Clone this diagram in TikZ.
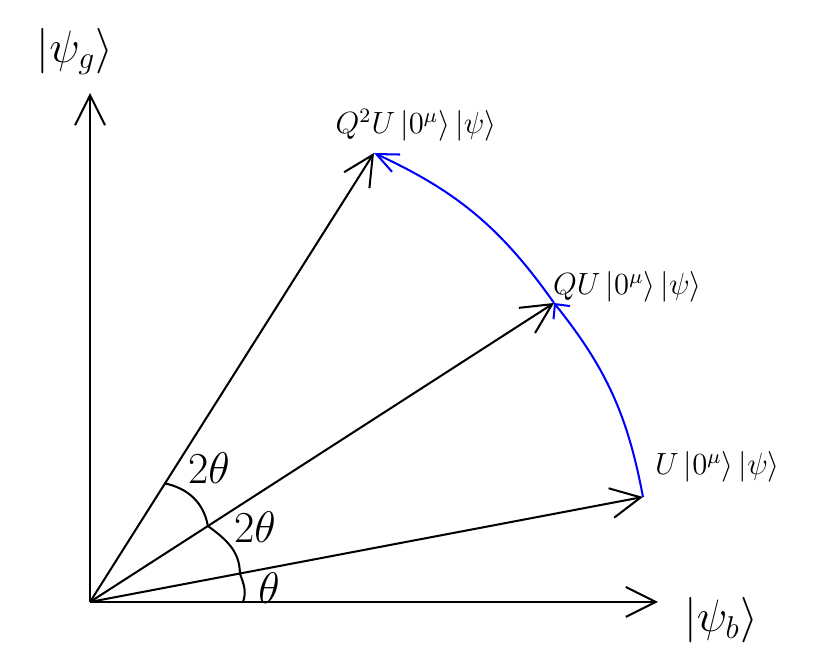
\documentclass[tikz,border=0pt]{standalone}
\usetikzlibrary{arrows.meta,calc}

\begin{document}
\begin{tikzpicture}[
  line width=0.85pt,
  vec/.style={-{Straight Barb[length=4.4mm,width=4.4mm]}},
  turn/.style={blue},
  ketlabel/.style={font=\LARGE,scale=1.1,transform shape},
  anglabel/.style={font=\LARGE,scale=1.07,transform shape},
  statelabel/.style={font=\large,scale=1.07,transform shape}
]
\useasboundingbox (-1.324,-1.015) rectangle (10.706,8.853);

% origin and axis ends
\coordinate (O) at (0,0);
\coordinate (yend) at (0,7.485);
\coordinate (xend) at (8.353,0);

% states
\coordinate (U) at (8.132,1.544);
\coordinate (QU) at (6.824,4.397);
\coordinate (QQU) at (4.176,6.603);

\draw[vec] (O) -- (yend);
\draw[vec] (O) -- (xend);
\draw[vec] (O) -- (U);
\draw[vec] (O) -- (QU);
\draw[vec] (O) -- (QQU);

% rotation by Q
\draw[turn,-{Straight Barb[length=1.6mm,width=3.1mm]}] (U) to[bend right=14] (QU);
\draw[turn,-{Straight Barb[length=3.2mm,width=2.8mm]}] (QU) to[bend right=15] (QQU);

% angle marks
\coordinate (m0) at (2.25,0);
\coordinate (m1) at ($(O)!0.271!(U)$);
\coordinate (m2) at ($(O)!0.254!(QU)$);
\coordinate (m3) at ($(O)!0.264!(QQU)$);
\draw (m0) to[out=70,in=-70] (m1);
\draw (m1) to[out=90,in=-36] (m2);
\draw (m2) to[out=100,in=-12] (m3);

\node[anglabel] (th) at (2.632,0.206) {$\theta$};
\node[anglabel] (th2a) at (2.426,1.103) {$2\theta$};
\node[anglabel] (th2b) at (1.75,1.971) {$2\theta$};

% labels
\node[ketlabel] (good) at (-0.221,8.096) {$\left|\psi_g\right\rangle$};
\node[ketlabel] (bad) at (9.279,-0.265) {$\left|\psi_b\right\rangle$};
\node[statelabel] (lU) at (9.228,1.985) {$U\left|0^{\mu}\right\rangle\left|\psi\right\rangle$};
\node[statelabel] (lQU) at (7.904,4.632) {$QU\left|0^{\mu}\right\rangle\left|\psi\right\rangle$};
\node[statelabel] (lQQU) at (4.794,7.015) {$Q^2U\left|0^{\mu}\right\rangle\left|\psi\right\rangle$};

\end{tikzpicture}
\end{document}
